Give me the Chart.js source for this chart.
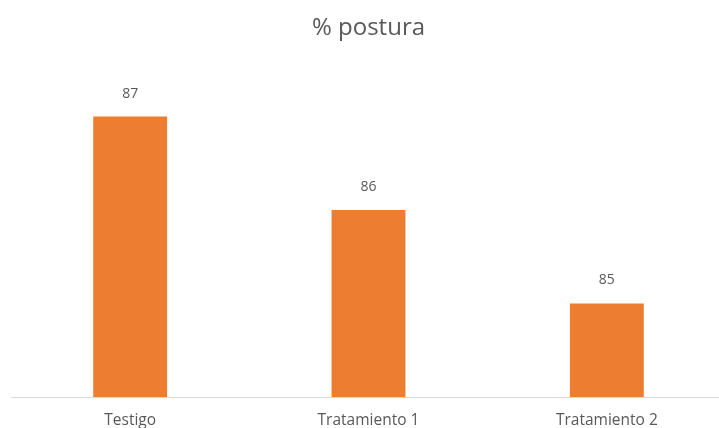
<!DOCTYPE html>
<html>
<head>
<meta charset="utf-8">
<script src="https://cdn.jsdelivr.net/npm/chart.js@4.4.1/dist/chart.umd.min.js"></script>
<style>
  html, body { margin: 0; padding: 0; background: #fff; overflow: hidden; }
  #wrap { position: relative; width: 727px; height: 428px; }
</style>
</head>
<body>
<div id="wrap"><canvas id="postura"></canvas></div>
<script>
// % postura — bar chart

const CATEGORIES = ['Testigo', 'Tratamiento 1', 'Tratamiento 2'];
const POSTURA = [87, 86, 85];
const Y_MIN = 84;
const Y_MAX = 87.5;

const ORANGE = '#ED7D31';
const TEXT_GREY = '#595959';
const FONT = "'Open Sans', sans-serif";

// value labels above each bar
const valueLabels = {
    id: 'valueLabels',
    afterDatasetsDraw(chart) {
        const ctx = chart.ctx;
        const meta = chart.getDatasetMeta(0);
        ctx.save();
        ctx.fillStyle = TEXT_GREY;
        ctx.font = "14px " + FONT;
        ctx.textAlign = 'center';
        ctx.textBaseline = 'middle';
        meta.data.forEach((bar, i) => {
            ctx.fillText(String(POSTURA[i]), bar.x, bar.y - 23);
        });
        ctx.restore();
    }
};

new Chart(document.getElementById('postura'), {
    type: 'bar',
    data: {
        labels: CATEGORIES,
        datasets: [{
            label: '% postura',
            data: POSTURA,
            backgroundColor: ORANGE,
            borderWidth: 0,
            barPercentage: 0.31,
            categoryPercentage: 1
        }]
    },
    options: {
        responsive: true,
        maintainAspectRatio: false,
        animation: false,
        layout: { padding: { left: 11, right: 1, top: 0, bottom: 0 } },
        plugins: {
            legend: { display: false },
            tooltip: { enabled: false },
            title: {
                display: true,
                text: '% postura',
                color: TEXT_GREY,
                font: { family: FONT, size: 24, weight: 'normal' },
                padding: { top: 14, bottom: 27 }
            }
        },
        scales: {
            y: {
                display: false,
                min: Y_MIN,
                max: Y_MAX
            },
            x: {
                grid: { display: false, drawTicks: false },
                border: { color: '#D9D9D9', width: 1 },
                ticks: {
                    color: TEXT_GREY,
                    font: { family: FONT, size: 15.5 },
                    padding: 14
                },
                afterFit: (scale) => { scale.height = 31; }
            }
        }
    },
    plugins: [valueLabels]
});
</script>
</body>
</html>
